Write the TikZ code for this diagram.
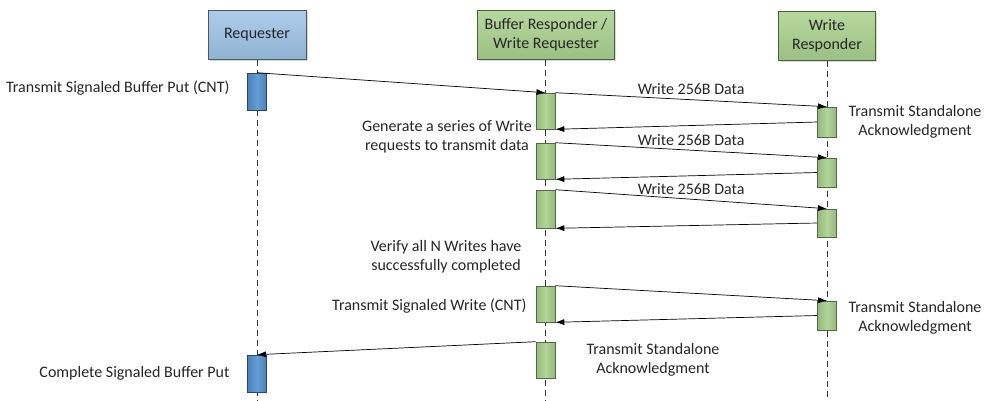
\documentclass[tikz,border=0pt]{standalone}
\usepackage{fontspec}
\setmainfont{Carlito}
\usetikzlibrary{arrows.meta,shadows}

\definecolor{lightblue}{RGB}{157,195,230}
\definecolor{barblue}{RGB}{84,146,208}
\definecolor{lightgreen}{RGB}{169,209,142}
\definecolor{textgray}{RGB}{38,38,38}

\tikzset{
  header/.style={draw=#1!45!black, line width=0.8pt, top color=#1!85, bottom color=#1!92!black,
    text=textgray, align=center, minimum height=49pt,
    drop shadow={shadow xshift=1.5pt,shadow yshift=-1.5pt,opacity=0.3}},
  actbar/.style={draw=#1!50!black, line width=0.6pt, left color=#1!88!black, right color=#1!88!black,
    middle color=#1!90, inner sep=0pt, minimum width=19pt},
  lifeline/.style={black!80, dash pattern=on 6pt off 4pt, line width=0.8pt},
  msg/.style={->, line width=0.7pt},
  lbl/.style={text=textgray, align=center}
}

\begin{document}
\begin{tikzpicture}[x=1pt,y=-1pt,font=\fontsize{16}{19}\selectfont,>={Latex[length=9pt,width=6pt]}]
    \useasboundingbox (0,0) rectangle (990,400);
    % lifeline heads
    \node[header=lightblue,minimum width=98pt] (req) at (257,35) {Requester};
    \node[header=lightgreen,minimum width=137pt] (buf) at (546,35) {Buffer Responder /\\Write Requester};
    \node[header=lightgreen,minimum width=97pt] (wr) at (827,36) {Write\\Responder};
    \coordinate (reqend) at (257,400);
    \coordinate (bufend) at (545,400);
    \coordinate (wrend) at (827,400);
    \draw[lifeline] (req.south) -- (reqend);
    \draw[lifeline] (buf.south -| bufend) -- (bufend);
    \draw[lifeline] (wr.south) -- (wrend);
    % activation bars
    \node[actbar=barblue,minimum height=37pt] (r1) at (257,91.5) {};
    \node[actbar=barblue,minimum height=37pt] (r2) at (257,373.5) {};
    \node[actbar=lightgreen,minimum height=36pt] (b1) at (545.5,111) {};
    \node[actbar=lightgreen,minimum height=36pt] (b2) at (545.5,161) {};
    \node[actbar=lightgreen,minimum height=38pt] (b3) at (545.5,209) {};
    \node[actbar=lightgreen,minimum height=36pt] (b4) at (545.5,304) {};
    \node[actbar=lightgreen,minimum height=36pt] (b5) at (545.5,360) {};
    \node[actbar=lightgreen,minimum height=30pt] (w1) at (827,122) {};
    \node[actbar=lightgreen,minimum height=29pt] (w2) at (827,172.5) {};
    \node[actbar=lightgreen,minimum height=28pt] (w3) at (827,223) {};
    \node[actbar=lightgreen,minimum height=29pt] (w4) at (827,315.5) {};
    % messages
    \draw[msg] (r1.north) -- (b1.north);
    \draw[msg] (b1.north east) -- (w1.north) node[lbl,midway,above=1pt] (d1) {Write 256B Data};
    \draw[msg] (w1.west) -- (b1.south east);
    \draw[msg] (b2.north east) -- (w2.north) node[lbl,midway,above=1pt] (d2) {Write 256B Data};
    \draw[msg] (w2.west) -- (b2.south east);
    \draw[msg] (b3.north east) -- (w3.north) node[lbl,midway,above=1pt] (d3) {Write 256B Data};
    \draw[msg] (w3.west) -- (b3.south east);
    \draw[msg] (b4.north east) -- (w4.north);
    \draw[msg] (w4.west) -- (b4.south east);
    \draw[msg] (b5.north west) -- (r2.north);
    % annotations
    \node[lbl,anchor=east] (tsbp) at (233,88) {Transmit Signaled Buffer Put (CNT)};
    \node[lbl,anchor=east] (csbp) at (233,373) {Complete Signaled Buffer Put};
    \node[lbl] (gen) at (447,137) {Generate a series of Write\\requests to transmit data};
    \node[lbl] (ver) at (446,257) {Verify all N Writes have\\successfully completed};
    \node[lbl,anchor=east] (tsw) at (530,306) {Transmit Signaled Write (CNT)};
    \node[lbl] (ack1) at (915,122) {Transmit Standalone\\Acknowledgment};
    \node[lbl] (ack2) at (915,318) {Transmit Standalone\\Acknowledgment};
    \node[lbl] (ack3) at (653,360) {Transmit Standalone\\Acknowledgment};
\end{tikzpicture}
\end{document}
